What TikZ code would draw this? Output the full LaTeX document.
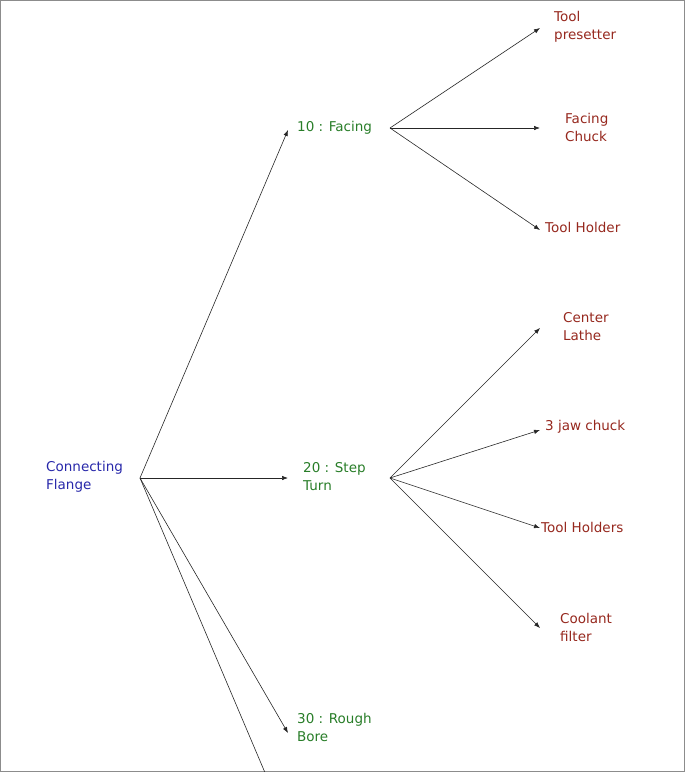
\documentclass[tikz,border=0pt]{standalone}
\usepackage{fontspec}
\setmainfont{DejaVu Sans}
\usetikzlibrary{arrows.meta}
\definecolor{rootblue}{RGB}{40,40,170}
\definecolor{opgreen}{RGB}{40,125,40}
\definecolor{toolred}{RGB}{150,40,30}
\begin{document}
\begin{tikzpicture}[x=1pt,y=-1pt,font=\fontsize{13.5}{18}\selectfont]
\tikzstyle{item}=[anchor=west,align=left,inner ysep=0pt,inner xsep=6pt]
\tikzstyle{link}=[-{Latex[length=6pt,width=4.5pt]},black!85,line width=0.6pt]
\useasboundingbox (0,0) rectangle (685,772);
\draw[black!45] (0.5,0.5) rectangle (684.5,771.5);
% Root and operations
\node (CF) [item,text=rootblue] at (40,477) {Connecting\\Flange};
\node (OP10) [item,text=opgreen] at (291,128) {10 : Facing};
\node (OP20) [item,text=opgreen] at (297,477) {20 : Step\\Turn};
\node (OP30) [item,text=opgreen] at (291,727) {30 : Rough\\Bore};
% Tools
\node (TP) [item,text=toolred] at (548,27) {Tool\\presetter};
\node (FC) [item,text=toolred] at (559,127) {Facing\\Chuck};
\node (TH) [item,text=toolred] at (539,227) {Tool Holder};
\node (CL) [item,text=toolred] at (557,327) {Center\\Lathe};
\node (JC) [item,text=toolred] at (539,427) {3 jaw chuck};
\node (THS) [item,text=toolred] at (535,527) {Tool Holders};
\node (CO) [item,text=toolred] at (554,627) {Coolant\\filter};
% Branch points
\coordinate (cf) at (140,478);
\coordinate (op10) at (390,128);
\coordinate (op20) at (390,478);
\coordinate (off) at (266,775);
\begin{scope}
\clip (0,0) rectangle (685,772);
\draw[black!85,line width=0.6pt] (cf) -- (off);
\end{scope}
\draw[link] (cf) -- (288,130);
\draw[link] (cf) -- (288,478);
\draw[link] (cf) -- (288,733);
\draw[link] (op10) -- (540,28);
\draw[link] (op10) -- (540,128);
\draw[link] (op10) -- (540,230);
\draw[link] (op20) -- (540,328);
\draw[link] (op20) -- (540,430);
\draw[link] (op20) -- (540,528);
\draw[link] (op20) -- (540,628);
\end{tikzpicture}
\end{document}
